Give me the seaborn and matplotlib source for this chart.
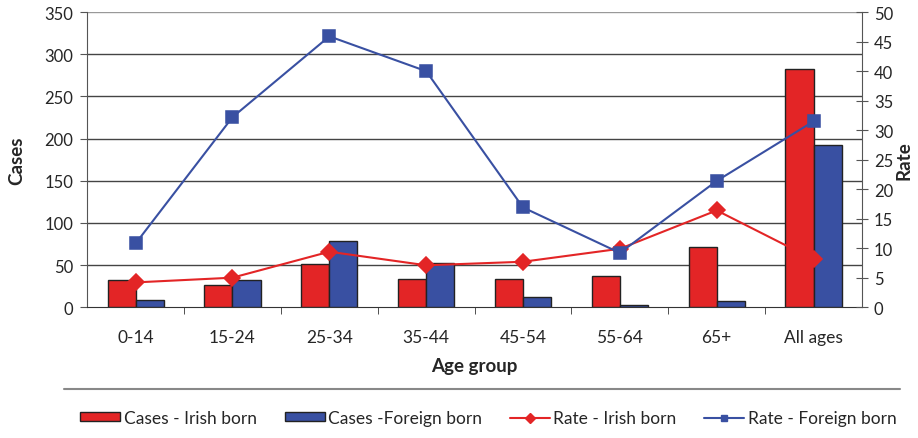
import pandas as pd
import numpy as np
import matplotlib.pyplot as plt
import seaborn as sns
from matplotlib.lines import Line2D
from matplotlib.patches import Patch
from matplotlib.ticker import MultipleLocator

sns.set_style("white")
plt.rcParams['font.family'] = ['Lato', 'DejaVu Sans']

# data
age_groups = ['0-14', '15-24', '25-34', '35-44', '45-54', '55-64', '65+', 'All ages']
cases_irish = [32, 26, 51, 34, 34, 37, 71, 283]
cases_foreign = [9, 32, 78, 53, 12, 3, 7, 192]
rate_irish = [4.2, 5.0, 9.4, 7.1, 7.7, 9.9, 16.4, 8.1]
rate_foreign = [10.8, 32.2, 45.9, 40.0, 16.9, 9.2, 21.4, 31.5]

red = '#e32526'
blue = '#3950a2'

cases = pd.DataFrame({
    'Age group': age_groups * 2,
    'Cases': cases_irish + cases_foreign,
    'Series': ['Cases - Irish born'] * 8 + ['Cases -Foreign born'] * 8,
})
rates = pd.DataFrame({
    'Age group': age_groups * 2,
    'Rate': rate_irish + rate_foreign,
    'Series': ['Rate - Irish born'] * 8 + ['Rate - Foreign born'] * 8,
})

fig = plt.figure(figsize=(9.18, 4.39), dpi=100)
ax = fig.add_axes([0.095, 0.298, 0.844, 0.672])

sns.barplot(data=cases, x='Age group', y='Cases', hue='Series', order=age_groups,
            palette=[red, blue], saturation=1, width=0.58, edgecolor='#222222',
            linewidth=1, legend=False, ax=ax, zorder=3)

ax.set_ylim(0, 350)
ax.set_xlim(-0.5, 7.5)
ax.yaxis.set_major_locator(MultipleLocator(50))
for y in range(50, 350, 50):
    ax.axhline(y, color='#444444', lw=1, zorder=1)
ax.axhline(350, color='#999999', lw=1, zorder=1)
for s in ['top', 'right']:
    ax.spines[s].set_visible(False)
ax.spines['left'].set_color('#555555')
ax.spines['bottom'].set_color('#333333')
ax.tick_params(axis='y', direction='out', length=5, color='#555555', left=True,
               labelsize=12, pad=5)
ax.tick_params(axis='x', which='major', length=0, labelsize=12.5, pad=16)
ax.set_xticks(np.arange(0.5, 7.5, 1), minor=True)
ax.tick_params(axis='x', which='minor', direction='out', length=5, color='#333333', bottom=True)
ax.set_ylabel('Cases', fontsize=13.5, fontweight='bold', labelpad=14)
ax.set_xlabel('Age group', fontsize=13.5, fontweight='bold', labelpad=8)

ax2 = ax.twinx()
sns.pointplot(data=rates, x='Age group', y='Rate', hue='Series', order=age_groups,
              palette=[red, blue], markers=['D', 's'], linestyles=['-', '-'],
              legend=False, ax=ax2, markersize=8, linewidth=1.5)
ax2.set_ylim(0, 50)
ax2.set_xlim(-0.5, 7.5)
ax2.yaxis.set_major_locator(MultipleLocator(5))
for s in ['top', 'left', 'bottom']:
    ax2.spines[s].set_visible(False)
ax2.spines['right'].set_color('#555555')
ax2.tick_params(axis='y', direction='inout', length=9, color='#555555', right=True,
                labelsize=12, pad=4)
ax2.set_ylabel('Rate', fontsize=13.5, fontweight='bold', labelpad=2)
ax2.set_xlabel('')

# separator line above the legend
sep_y = 1 - 390 / 439
fig.add_artist(Line2D([0.07, 0.98], [sep_y, sep_y], transform=fig.transFigure,
                      color='#888888', lw=1.5))

handles = [
    Patch(facecolor=red, edgecolor='#222222', label='Cases - Irish born'),
    Patch(facecolor=blue, edgecolor='#222222', label='Cases -Foreign born'),
    Line2D([], [], color=red, marker='D', markersize=5, lw=1.5, label='Rate - Irish born'),
    Line2D([], [], color=blue, marker='s', markersize=5, lw=1.5, label='Rate - Foreign born'),
]
fig.legend(handles=handles, loc='center', bbox_to_anchor=(0.532, 1 - 419 / 439), ncol=4,
           frameon=False, fontsize=12.5, handlelength=2.3, handleheight=0.45,
           handletextpad=0.2, columnspacing=1.6)

fig.savefig('out.png', dpi=100)
